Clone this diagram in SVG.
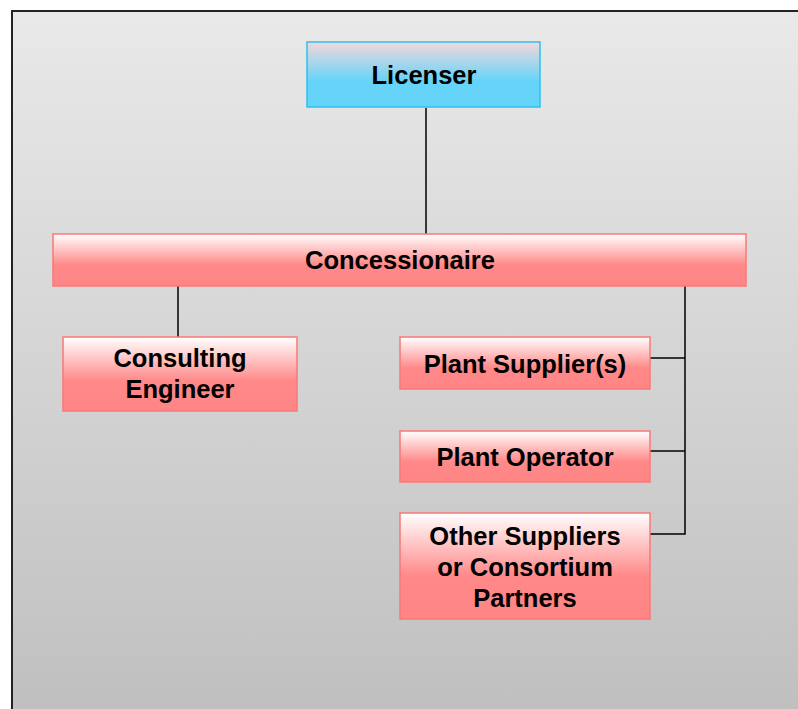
<svg xmlns="http://www.w3.org/2000/svg" width="798" height="709" viewBox="0 0 798 709">
<defs>
<linearGradient id="bg" x1="0" y1="0" x2="0" y2="1">
<stop offset="0" stop-color="#e9e9e9"/>
<stop offset="1" stop-color="#bfbfbf"/>
</linearGradient>
<linearGradient id="blue" x1="0" y1="0" x2="0" y2="1">
<stop offset="0" stop-color="#f2d8dc"/>
<stop offset="0.6" stop-color="#66d4f8"/>
<stop offset="1" stop-color="#66d4f8"/>
</linearGradient>
<linearGradient id="red" x1="0" y1="0" x2="0" y2="1">
<stop offset="0" stop-color="#ffffff"/>
<stop offset="0.6" stop-color="#ff8888"/>
<stop offset="1" stop-color="#ff8585"/>
</linearGradient>
</defs>
<style>
.red{fill:url(#red);stroke:#f87878;stroke-width:1.5}
.blue{fill:url(#blue);stroke:#2cc0ee;stroke-width:1.5}
.t{font-family:"Liberation Sans",Arial,sans-serif;font-weight:bold;font-size:25.5px;fill:#000;text-anchor:middle}
.c{stroke:#000;stroke-width:1.5;fill:none}
</style>
<rect x="12" y="11" width="800" height="710" fill="url(#bg)" stroke="#222" stroke-width="2"/>
<g id="connectors">
<line class="c" x1="426" y1="108" x2="426" y2="234"/>
<line class="c" x1="178" y1="286" x2="178" y2="337"/>
<polyline class="c" points="685,286 685,534 650,534"/>
<line class="c" x1="650" y1="358" x2="685" y2="358"/>
<line class="c" x1="650" y1="451" x2="685" y2="451"/>
</g>
<g id="licenser">
<rect class="blue" x="307" y="42" width="233" height="65"/>
<text class="t" x="424" y="84">Licenser</text>
</g>
<g id="concessionaire">
<rect class="red" x="53" y="234" width="693" height="52"/>
<text class="t" x="400" y="269">Concessionaire</text>
</g>
<g id="consulting">
<rect class="red" x="63" y="337" width="234" height="74"/>
<text class="t" x="180" y="367">Consulting</text>
<text class="t" x="180" y="398">Engineer</text>
</g>
<g id="plant-suppliers">
<rect class="red" x="400" y="337" width="250" height="52"/>
<text class="t" x="525" y="373">Plant Supplier(s)</text>
</g>
<g id="plant-operator">
<rect class="red" x="400" y="431" width="250" height="51"/>
<text class="t" x="525" y="466">Plant Operator</text>
</g>
<g id="other-suppliers">
<rect class="red" x="400" y="513" width="250" height="106"/>
<text class="t" x="525" y="545">Other Suppliers</text>
<text class="t" x="525" y="576">or Consortium</text>
<text class="t" x="525" y="607">Partners</text>
</g>
</svg>
